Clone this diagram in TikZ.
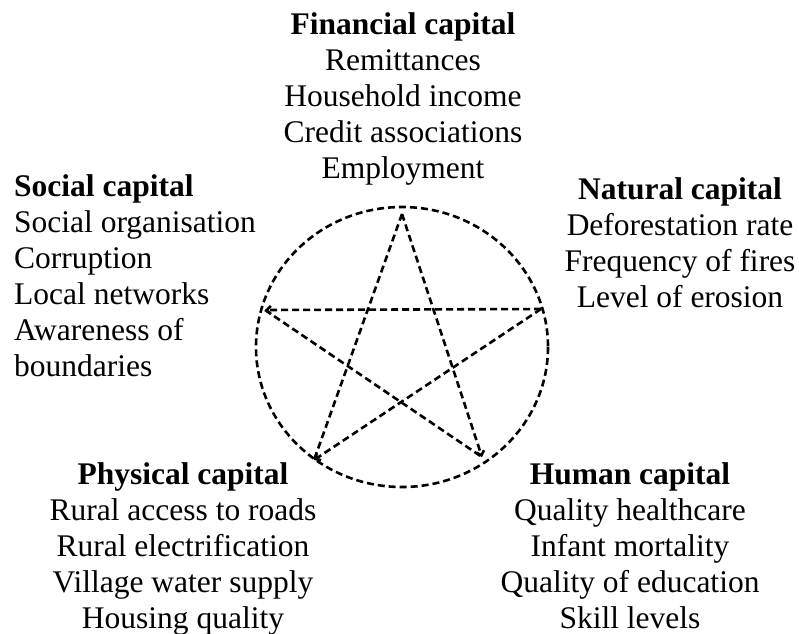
\documentclass[tikz,border=0pt]{standalone}
\usepackage{fontspec}
\setmainfont{Liberation Serif}
\usetikzlibrary{arrows.meta}

\tikzset{
    capital/.style={inner sep=0pt, align=center, anchor=base, font=\fontsize{31.5}{36}\selectfont},
    starline/.style={line width=2.6pt, dash pattern=on 7pt off 4pt},
    startip/.style={-{Straight Barb[length=4pt, width=8pt]}},
}

\begin{document}
\begin{tikzpicture}[x=1pt, y=-1pt]
    \useasboundingbox (0, 0) rectangle (799, 633);

    % anchor is the baseline of the last line
    \node[capital] (fin) at (403, 178) {\textbf{Financial capital}\\Remittances\\Household income\\Credit associations\\Employment};
    \node[capital, align=left, anchor=base west] (soc) at (14, 376) {\textbf{Social capital}\\Social organisation\\Corruption\\Local networks\\Awareness of\\boundaries};
    \node[capital] (nat) at (680, 307) {\textbf{Natural capital}\\Deforestation rate\\Frequency of fires\\Level of erosion};
    \node[capital] (phy) at (183, 628) {\textbf{Physical capital}\\Rural access to roads\\Rural electrification\\Village water supply\\Housing quality};
    \node[capital] (hum) at (630, 628) {\textbf{Human capital}\\Quality healthcare\\Infant mortality\\Quality of education\\Skill levels};

    \draw[starline] (402, 347) ellipse (146 and 140);

    \coordinate (top) at (402, 214);
    \coordinate (left) at (265, 310);
    \coordinate (right) at (541, 309);
    \coordinate (botleft) at (314, 460);
    \coordinate (botright) at (482, 457);

    \draw[starline] (top) -- (botleft);
    \draw[starline, startip] (top) -- (botright);
    \draw[starline, startip] (right) -- (left);
    \draw[starline, startip] (right) -- (botleft);
    \draw[starline] (left) -- (botright);
\end{tikzpicture}
\end{document}
